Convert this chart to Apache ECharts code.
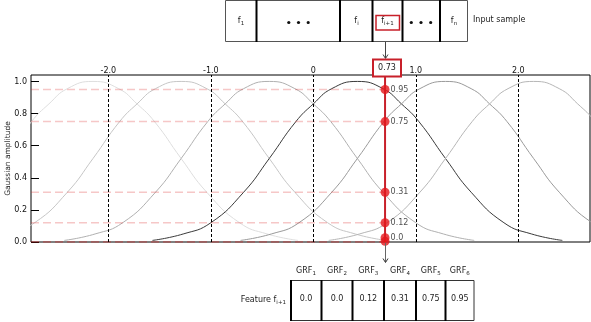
<!DOCTYPE html>
<html><head><meta charset="utf-8">
<script src="https://cdn.jsdelivr.net/npm/echarts@6/dist/echarts.min.js"></script>
<style>html,body{margin:0;padding:0;background:#fff}#c{width:591px;height:322px}</style>
</head><body><div id="c"></div>
<script>
// ---------- data ----------
const xTickValues = [-2, -1, 0, 1, 2];
const yTickValues = [0, 0.2, 0.4, 0.6, 0.8, 1.0];
const xRange = [-2.755, 2.70];
const yRange = [0, 1.04];

const grf1 = [[-4.15,0.01],[-3.85,0.05],[-3.58,0.12],[-3.26,0.31],[-3.01,0.52],[-2.75,0.75],[-2.58,0.86],[-2.40,0.955],[-2.15,1.0],[-1.90,0.955],[-1.72,0.86],[-1.55,0.75],[-1.29,0.52],[-1.04,0.31],[-0.72,0.12],[-0.45,0.05],[-0.15,0.01]];
const grf2 = [[-3.29,0.01],[-2.99,0.05],[-2.72,0.12],[-2.40,0.31],[-2.15,0.52],[-1.89,0.75],[-1.72,0.86],[-1.54,0.955],[-1.29,1.0],[-1.04,0.955],[-0.86,0.86],[-0.69,0.75],[-0.43,0.52],[-0.18,0.31],[0.14,0.12],[0.41,0.05],[0.71,0.01]];
const grf3 = [[-2.43,0.01],[-2.13,0.05],[-1.86,0.12],[-1.54,0.31],[-1.29,0.52],[-1.03,0.75],[-0.86,0.86],[-0.68,0.955],[-0.43,1.0],[-0.18,0.955],[0.00,0.86],[0.17,0.75],[0.43,0.52],[0.68,0.31],[1.00,0.12],[1.27,0.05],[1.57,0.01]];
const grf4 = [[-1.57,0.01],[-1.27,0.05],[-1.00,0.12],[-0.68,0.31],[-0.43,0.52],[-0.17,0.75],[0.00,0.86],[0.18,0.955],[0.43,1.0],[0.68,0.955],[0.86,0.86],[1.03,0.75],[1.29,0.52],[1.54,0.31],[1.86,0.12],[2.13,0.05],[2.43,0.01]];
const grf5 = [[-0.71,0.01],[-0.41,0.05],[-0.14,0.12],[0.18,0.31],[0.43,0.52],[0.69,0.75],[0.86,0.86],[1.04,0.955],[1.29,1.0],[1.54,0.955],[1.72,0.86],[1.89,0.75],[2.15,0.52],[2.40,0.31],[2.72,0.12],[2.99,0.05],[3.29,0.01]];
const grf6 = [[0.15,0.01],[0.45,0.05],[0.72,0.12],[1.04,0.31],[1.29,0.52],[1.55,0.75],[1.72,0.86],[1.90,0.955],[2.15,1.0],[2.40,0.955],[2.58,0.86],[2.75,0.75],[3.01,0.52],[3.26,0.31],[3.58,0.12],[3.85,0.05],[4.15,0.01]];
const curves = [grf1, grf2, grf3, grf4, grf5, grf6];

const inputValueText = '0.73';
const inputX = 0.70;
const activations = [0.004, 0.027, 0.31, 0.95, 0.75, 0.12];
const activationLabels = ['', '0.0', '0.31', '0.95', '0.75', '0.12'];
const grfFeature = [0.0, 0.0, 0.12, 0.31, 0.75, 0.95];
const grfFeatureText = ['0.0', '0.0', '0.12', '0.31', '0.75', '0.95'];
const grfHeaderSubs = ['1', '2', '3', '4', '5', '6'];
const inputCellSubs = ['1', null, 'i', 'i+1', null, 'n'];

// ---------- styles ----------
const FONT = 'DejaVu Sans';
const curveColors = ['#dedede', '#c6c6c6', '#b0b0b0', '#3a3a3a', '#9a9a9a', '#b6b6b6'];
const RED_LINE = '#c8202a';
const RED_DOT = '#e4161c';

const series = [];
curves.forEach((c, i) => {
  series.push({
    type: 'line', data: c, smooth: 0.5, symbol: 'none', silent: true,
    lineStyle: { color: curveColors[i], width: 1 }, z: 2
  });
});
series.push({
  type: 'line', data: [], silent: true,
  markLine: {
    silent: true, symbol: 'none', label: { show: false },
    lineStyle: { color: '#000', type: [3, 2], width: 1 },
    data: xTickValues.map(v => ({ xAxis: v }))
  }, z: 3
});
grfFeature.forEach(v => {
  series.push({
    type: 'line', data: [[xRange[0], v], [inputX, v]], symbol: 'none', silent: true,
    lineStyle: { color: 'rgba(220,30,30,0.25)', width: 1.5, type: [8, 4] }, z: 3
  });
});
series.push({
  type: 'line', data: [[inputX, 0], [inputX, yRange[1]]], symbol: 'none', silent: true,
  lineStyle: { color: RED_LINE, width: 2 }, z: 4
});
series.push({
  type: 'scatter', data: activations.map(v => [inputX, v]), symbolSize: 9, silent: true,
  itemStyle: { color: RED_DOT },
  label: {
    show: true, position: 'right', distance: 1,
    formatter: p => activationLabels[p.dataIndex],
    fontSize: 8, color: '#222', fontFamily: FONT
  }, z: 5
});

// ---------- annotation graphics ----------
const G = [];
const txt = (x, y, text, extra) => Object.assign({
  type: 'text', x, y, z: 70,
  style: Object.assign({ text, fontSize: 8, fontFamily: FONT, fill: '#222', align: 'center', verticalAlign: 'middle' }, extra || {})
});
const subRich = {
  a: { fontSize: 8, fontFamily: FONT, fill: '#222', lineHeight: 12, verticalAlign: 'middle' },
  b: { fontSize: 5.5, fontFamily: FONT, fill: '#222', lineHeight: 12, verticalAlign: 'bottom' }
};
// input sample box
G.push({ type: 'rect', z: 60, shape: { x: 225.5, y: 0.5, width: 242, height: 41 }, style: { fill: '#fff', stroke: '#555', lineWidth: 1 } });
[256.5, 340, 372.5, 402.5, 440].forEach(x => G.push({ type: 'line', z: 61, shape: { x1: x, y1: 0, x2: x, y2: 42 }, style: { stroke: '#000', lineWidth: 2 } }));
const inCenters = [241, 298.5, 356.5, 387.5, 421, 454];
inputCellSubs.forEach((s, i) => {
  const cx = inCenters[i];
  if (s === null) {
    [-9.7, 0, 9.7].forEach(d => G.push({ type: 'circle', z: 70, shape: { cx: cx + d, cy: 22.5, r: 1.6 }, style: { fill: '#111' } }));
  } else {
    G.push({ type: 'text', x: cx, y: 21, z: 70, style: { text: '{a|f}{b|' + s + '}', rich: subRich, align: 'center', verticalAlign: 'middle' } });
  }
});
G.push({ type: 'rect', z: 71, shape: { x: 376, y: 15.5, width: 23.5, height: 14.5 }, style: { fill: 'none', stroke: RED_LINE, lineWidth: 1.5 } });
G.push(txt(473, 20, 'Input sample', { align: 'left' }));
// top arrow
G.push({ type: 'line', z: 61, shape: { x1: 385.5, y1: 42, x2: 385.5, y2: 58 }, style: { stroke: '#444', lineWidth: 1 } });
G.push({ type: 'polyline', z: 61, shape: { points: [[383, 54.5], [385.5, 58.5], [388, 54.5]] }, style: { stroke: '#444', lineWidth: 1, fill: 'none' } });
// 0.73 box
G.push({ type: 'rect', z: 65, shape: { x: 373, y: 59.5, width: 28, height: 17 }, style: { fill: '#fff', stroke: RED_LINE, lineWidth: 2 } });
G.push(txt(387, 68, inputValueText));
// lower arrow
G.push({ type: 'line', z: 61, shape: { x1: 385.5, y1: 243, x2: 385.5, y2: 262 }, style: { stroke: '#666', lineWidth: 1 } });
G.push({ type: 'polyline', z: 61, shape: { points: [[383, 258.5], [385.5, 262.5], [388, 258.5]] }, style: { stroke: '#333', lineWidth: 1, fill: 'none' } });
// table
G.push({ type: 'rect', z: 60, shape: { x: 290.5, y: 280.5, width: 183.5, height: 40 }, style: { fill: '#fff', stroke: '#333', lineWidth: 1 } });
[291, 321.5, 352.5, 384, 416, 445.5].forEach(x => G.push({ type: 'line', z: 61, shape: { x1: x, y1: 280, x2: x, y2: 321 }, style: { stroke: '#000', lineWidth: 2 } }));
const tCenters = [306, 337, 368.3, 400, 430.8, 459.8];
grfHeaderSubs.forEach((s, i) => {
  G.push({ type: 'text', x: tCenters[i], y: 271, z: 70, style: { text: '{a|GRF}{b|' + s + '}', rich: subRich, align: 'center', verticalAlign: 'middle' } });
  G.push(txt(tCenters[i], 298.5, grfFeatureText[i]));
});
G.push({ type: 'text', x: 286, y: 300, z: 70, style: { text: '{a|Feature f}{b|i+1}', rich: subRich, align: 'right', verticalAlign: 'middle' } });

const chart = echarts.init(document.getElementById('c'), null, { renderer: 'canvas' });
chart.setOption({
  animation: false,
  backgroundColor: '#fff',
  grid: { left: 31, top: 75, width: 559, height: 167, show: true, borderColor: '#000', borderWidth: 1, backgroundColor: 'transparent', containLabel: false, outerBoundsMode: 'none' },
  xAxis: {
    type: 'value', position: 'top', min: xRange[0], max: xRange[1],
    axisLine: { show: false, onZero: false }, splitLine: { show: false },
    axisTick: { show: false },
    axisLabel: {
      customValues: xTickValues, margin: 0, fontSize: 8, fontFamily: FONT, color: '#111',
      formatter: v => (v === 0 ? '0' : v.toFixed(1))
    }
  },
  yAxis: {
    type: 'value', min: yRange[0], max: yRange[1],
    name: 'Gaussian amplitude', nameLocation: 'middle', nameGap: 19, nameRotate: 90, nameMoveOverlap: false,
    nameTextStyle: { fontSize: 7.5, fontFamily: FONT, color: '#222' },
    axisLine: { show: false, onZero: false }, splitLine: { show: false },
    axisTick: { show: true, inside: true, length: 8, customValues: yTickValues, lineStyle: { color: '#000', width: 1 } },
    axisLabel: {
      customValues: yTickValues, margin: 4, fontSize: 8, fontFamily: FONT, color: '#111',
      formatter: v => v.toFixed(1)
    }
  },
  series: series,
  graphic: G
});
</script></body></html>
